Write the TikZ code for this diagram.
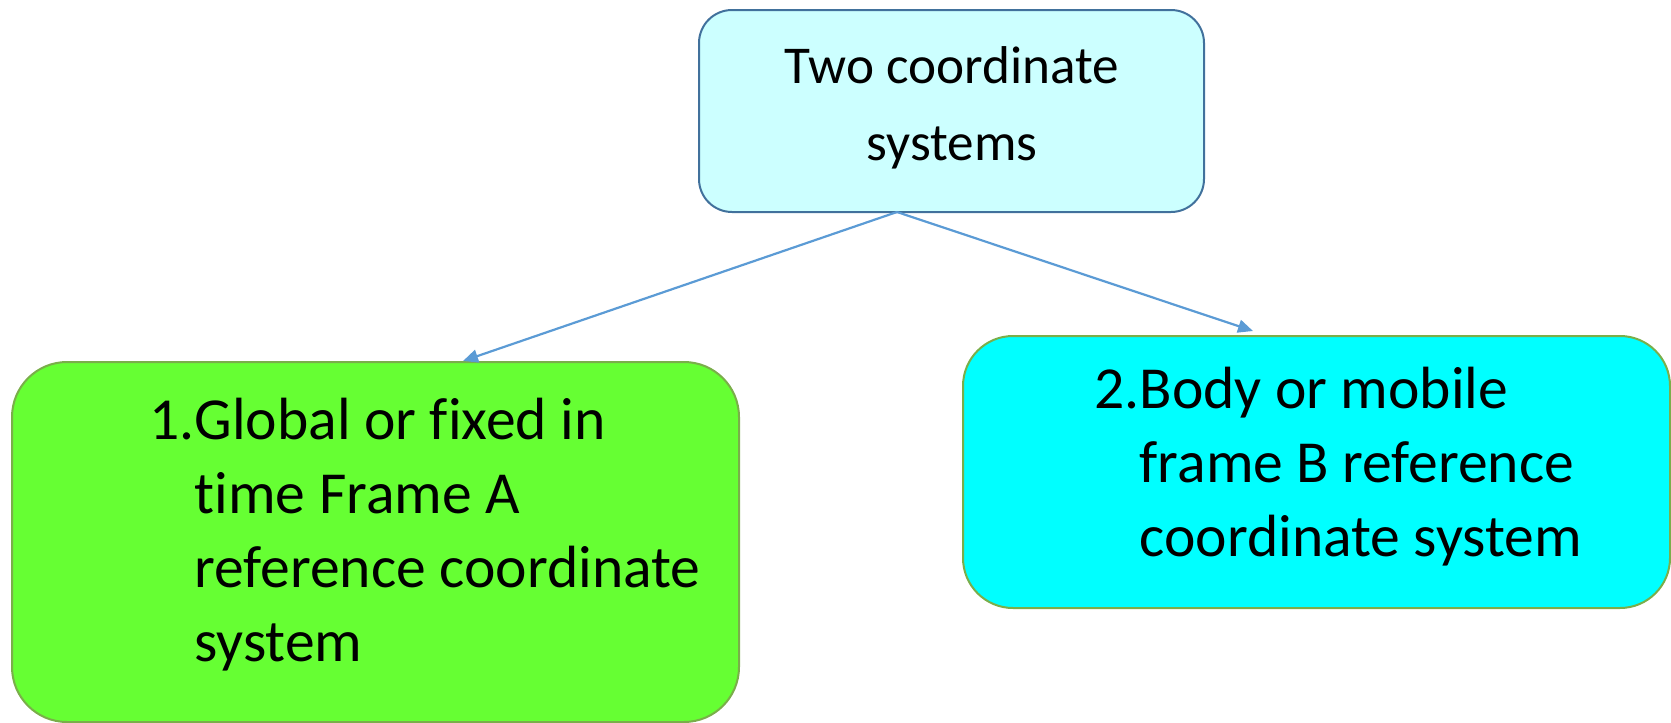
\documentclass[tikz,border=0pt]{standalone}
\usepackage{fontspec}
\setmainfont{Carlito}[Ligatures={NoCommon,NoRare,NoContextual}]
\usetikzlibrary{arrows.meta}
\definecolor{topfill}{HTML}{CCFFFF}
\definecolor{topline}{HTML}{41719C}
\definecolor{greenfill}{HTML}{66FF33}
\definecolor{boxline}{HTML}{7AAE4A}
\definecolor{cyanfill}{HTML}{00FFFF}
\definecolor{arrowc}{HTML}{5B9BD5}
\begin{document}
\begin{tikzpicture}[x=0.5pt,y=-0.5pt,
  box/.style={draw, line width=1pt, inner sep=0pt},
  conn/.style={draw=arrowc, line width=1.1pt, -{Triangle[length=7.5pt,width=6.5pt]}},
  toptext/.style={anchor=base, inner sep=0pt, font=\fontsize{26.6}{38.5}\selectfont},
  lowtext/.style={anchor=base west, inner sep=0pt, font=\fontsize{29.8}{37}\selectfont}]
\useasboundingbox (0,0) rectangle (1671,723);
\node[box, fill=topfill, draw=topline, rounded corners=16.5pt, minimum width=252.5pt, minimum height=101pt] (top) at (951.5,111) {};
\node[box, fill=greenfill, draw=boxline, rounded corners=27.5pt, minimum width=363.5pt, minimum height=180pt] (green) at (375.5,542) {};
\node[box, fill=cyanfill, draw=boxline, rounded corners=25pt, minimum width=353.5pt, minimum height=136pt] (cyan) at (1316.5,472) {};
\node[toptext] (ttext) at (952,83) {\begin{tabular}[t]{@{}c@{}}Two coordinate\\systems\end{tabular}};
\node[lowtext] (gtext) at (149,439) {\begin{tabular}[t]{@{}l@{}l@{}}1.&Global or fixed in\\&time Frame A\\&reference coordinate\\&system\end{tabular}};
\node[lowtext] (ctext) at (1094,408) {\begin{tabular}[t]{@{}l@{}l@{}}2.&Body or mobile\\&frame B reference\\&coordinate system\end{tabular}};
\coordinate (s) at (897,212);
\coordinate (ga) at (463,361);
\coordinate (ca) at (1253,331);
\draw[conn] (s) -- (ga);
\draw[conn] (s) -- (ca);
\end{tikzpicture}
\end{document}
